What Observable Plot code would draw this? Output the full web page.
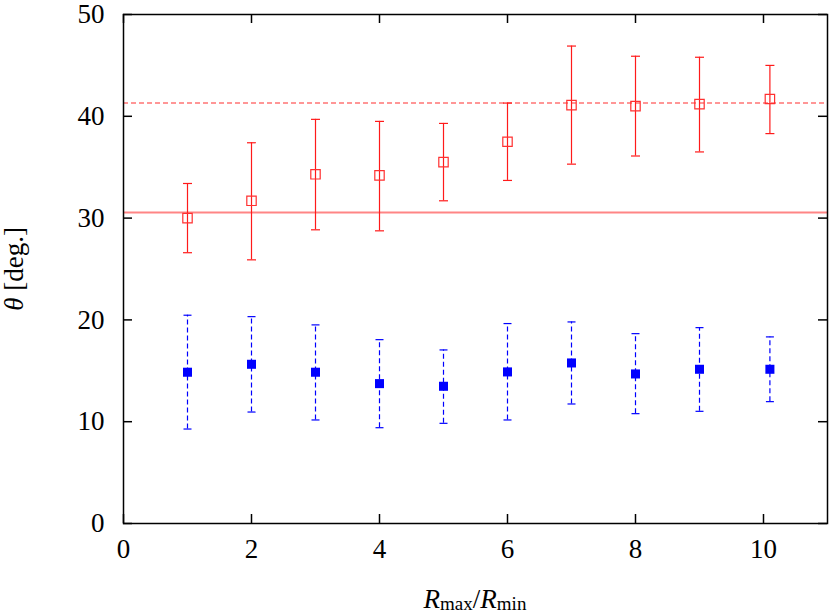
<!DOCTYPE html>
<html>
<head>
<meta charset="utf-8">
<script src="https://cdn.jsdelivr.net/npm/d3@7"></script>
<script src="https://cdn.jsdelivr.net/npm/@observablehq/plot@0.6"></script>
<style>
  html, body { margin: 0; padding: 0; background: white; }
  #chart { width: 830px; height: 614px; }
</style>
</head>
<body>
<div id="chart"></div>
<script>
// ---- data ----
const ratio     = [1, 2, 3, 4, 5, 6, 7, 8, 9, 10.1];
const redMean   = [30.0, 31.7, 34.3, 34.2, 35.5, 37.5, 41.1, 41.0, 41.2, 41.7];
const redLow    = [26.6, 25.9, 28.85, 28.75, 31.7, 33.7, 35.3, 36.1, 36.5, 38.3];
const redHigh   = [33.4, 37.4, 39.7, 39.5, 39.3, 41.3, 46.9, 45.9, 45.8, 45.0];
const blueMean  = [14.86, 15.64, 14.86, 13.74, 13.48, 14.89, 15.77, 14.69, 15.15, 15.15];
const blueLow   = [9.28, 10.95, 10.17, 9.41, 9.84, 10.17, 11.74, 10.79, 11.02, 11.97];
const blueHigh  = [20.46, 20.32, 19.51, 18.06, 17.05, 19.64, 19.80, 18.65, 19.24, 18.33];
const refSolid  = [30.55];
const refDashed = [41.3];
const xTicks = [0, 2, 4, 6, 8, 10];
const yTicks = [0, 10, 20, 30, 40, 50];

const red = ratio.map((x, i) => ({x, y: redMean[i], lo: redLow[i], hi: redHigh[i]}));
const blue = ratio.map((x, i) => ({x, y: blueMean[i], lo: blueLow[i], hi: blueHigh[i]}));

const W = 830, H = 614;
const mL = 123, mR = 3, mT = 14, mB = 91;
const innerW = W - mL - mR, innerH = H - mT - mB;
const tickLen = 9;
const FONT = "Liberation Serif";
const FS = 27;

// horizontal cap symbol for error bars
const cap = {
  draw(ctx, size) {
    const r = Math.sqrt(size / Math.PI);
    ctx.moveTo(-r, 0);
    ctx.lineTo(r, 0);
  }
};

const plot = Plot.plot({
  width: W, height: H,
  marginLeft: mL, marginRight: mR, marginTop: mT, marginBottom: mB,
  style: {fontFamily: FONT, background: "white", color: "black"},
  x: {domain: [0, 11], axis: null},
  y: {domain: [0, 50], axis: null},
  marks: [
    // reference lines
    Plot.ruleY(refSolid, {y: d => d, stroke: "#ff0000", strokeOpacity: 0.48, strokeWidth: 2}),
    Plot.ruleY(refDashed, {y: d => d, stroke: "#ff0000", strokeOpacity: 0.55, strokeWidth: 1.5, strokeDasharray: "5,3"}),
    // red series
    Plot.ruleX(red, {x: "x", y1: "lo", y2: "hi", stroke: "#ff1a1a", strokeWidth: 1.2}),
    Plot.dot(red, {x: "x", y: "lo", symbol: cap, r: 4.5, stroke: "#ff1a1a", strokeWidth: 1.2}),
    Plot.dot(red, {x: "x", y: "hi", symbol: cap, r: 4.5, stroke: "#ff1a1a", strokeWidth: 1.2}),
    Plot.dot(red, {x: "x", y: "y", symbol: "square", r: 5.3, stroke: "#ff3030", strokeWidth: 1.2, fill: "none"}),
    // blue series
    Plot.ruleX(blue, {x: "x", y1: "lo", y2: "hi", stroke: "#0000ff", strokeWidth: 1.2, strokeDasharray: "5,3"}),
    Plot.dot(blue, {x: "x", y: "lo", symbol: cap, r: 4, stroke: "#0000ff", strokeWidth: 1.2}),
    Plot.dot(blue, {x: "x", y: "hi", symbol: cap, r: 4, stroke: "#0000ff", strokeWidth: 1.2}),
    Plot.dot(blue, {x: "x", y: "y", symbol: "square", r: 5.1, fill: "#0000ff", stroke: "none"}),
    // inward ticks on all four sides
    Plot.tickX(xTicks, {x: d => d, insetTop: innerH - tickLen, stroke: "black", strokeWidth: 1.5}),
    Plot.tickX(xTicks, {x: d => d, insetBottom: innerH - tickLen, stroke: "black", strokeWidth: 1.5}),
    Plot.tickY(yTicks, {y: d => d, insetRight: innerW - tickLen, stroke: "black", strokeWidth: 1.5}),
    Plot.tickY(yTicks, {y: d => d, insetLeft: innerW - tickLen, stroke: "black", strokeWidth: 1.5}),
    // tick labels
    Plot.axisX(xTicks, {tickSize: 0, tickPadding: 15, fontSize: FS, fontFamily: FONT, fill: "black", label: null}),
    Plot.axisY(yTicks, {tickSize: 0, tickPadding: 19, fontSize: FS, fontFamily: FONT, fill: "black", label: null}),
    Plot.frame({stroke: "black", strokeWidth: 1.5})
  ]
});

document.getElementById("chart").appendChild(plot);

// axis titles with italic symbols and subscripts
const svg = d3.select(plot);
const xl = svg.append("text")
  .attr("x", 475).attr("y", 608)
  .attr("text-anchor", "middle")
  .attr("font-family", FONT).attr("font-size", FS).attr("fill", "black");
xl.append("tspan").attr("font-style", "italic").text("R");
xl.append("tspan").attr("font-size", 19).attr("dy", 2).text("max");
xl.append("tspan").attr("dy", -2).text("/");
xl.append("tspan").attr("font-style", "italic").text("R");
xl.append("tspan").attr("font-size", 19).attr("dy", 2).text("min");

const yl = svg.append("text")
  .attr("transform", "translate(23,269) rotate(-90)")
  .attr("text-anchor", "middle")
  .attr("font-family", FONT).attr("font-size", FS).attr("fill", "black");
yl.append("tspan").attr("font-style", "italic").text("θ");
yl.append("tspan").text(" [deg.]");
</script>
</body>
</html>
